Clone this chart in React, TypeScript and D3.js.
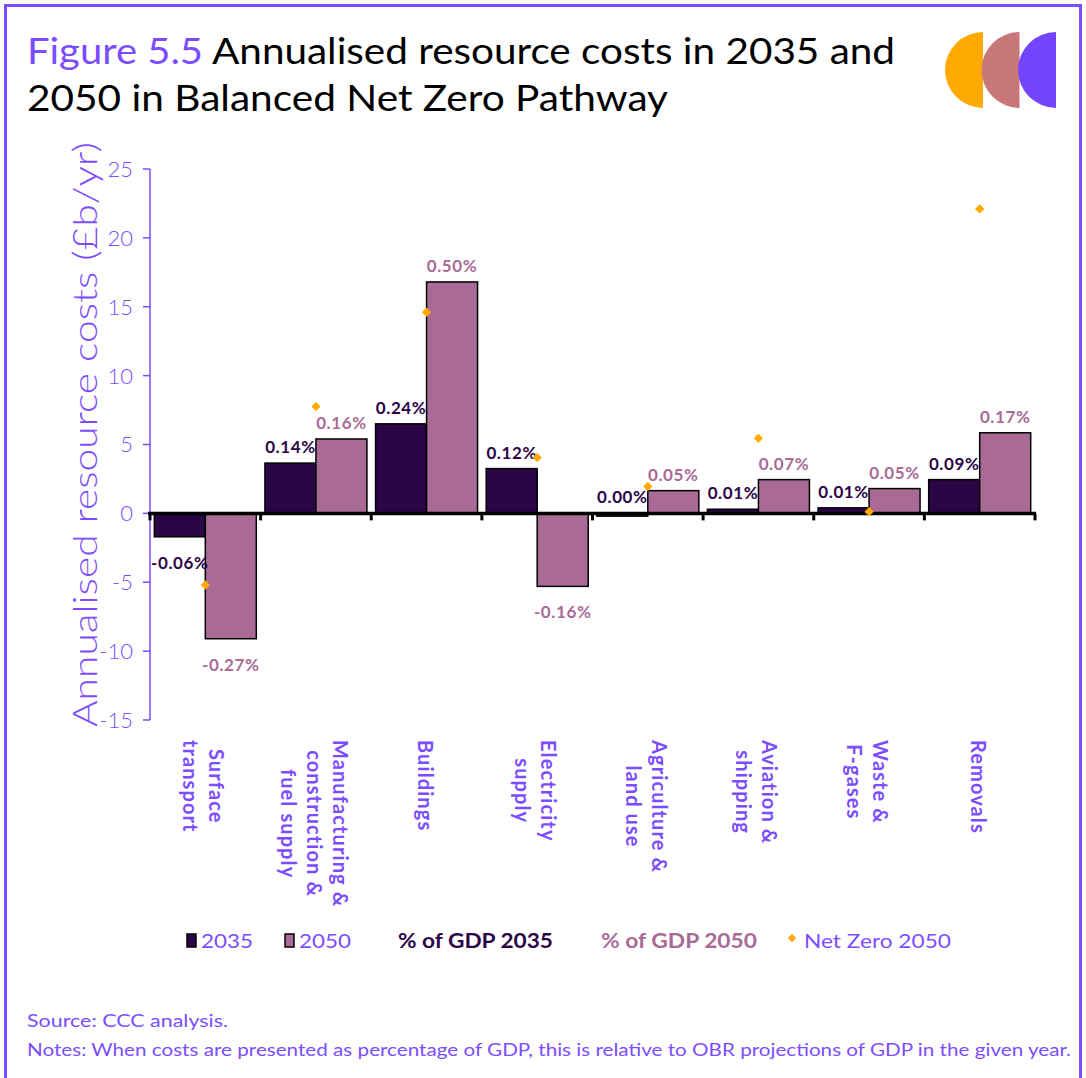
import React, { useEffect, useRef } from "react";
import * as d3 from "d3";

const categories = [
  "Surface transport",
  "Manufacturing & construction & fuel supply",
  "Buildings",
  "Electricity supply",
  "Agriculture & land use",
  "Aviation & shipping",
  "Waste & F-gases",
  "Removals",
];
const categoryLines = [
  ["Surface", "transport"],
  ["Manufacturing &", "construction &", "fuel supply"],
  ["Buildings"],
  ["Electricity", "supply"],
  ["Agriculture &", "land use"],
  ["Aviation &", "shipping"],
  ["Waste &", "F-gases"],
  ["Removals"],
];
const values2035 = [-1.7, 3.65, 6.5, 3.25, -0.2, 0.3, 0.4, 2.45];
const values2050 = [-9.1, 5.4, 16.8, -5.3, 1.65, 2.45, 1.8, 5.85];
const netZero2050 = [-5.2, 7.75, 14.6, 4.05, 1.95, 5.45, 0.12, 22.1];
const pctGdp2035 = ["-0.06%", "0.14%", "0.24%", "0.12%", "0.00%", "0.01%", "0.01%", "0.09%"];
const pctGdp2050 = ["-0.27%", "0.16%", "0.50%", "-0.16%", "0.05%", "0.07%", "0.05%", "0.17%"];
const yTicks = [-15, -10, -5, 0, 5, 10, 15, 20, 25];

const PURPLE = "#7B4DFF";
const DARK = "#2C0547";
const MAUVE = "#A96B96";
const ORANGE = "#FFAA00";
const FONT = "Lato, 'Noto Sans', sans-serif";

export default function App() {
  const ref = useRef<SVGSVGElement | null>(null);

  useEffect(() => {
    const svg = d3.select(ref.current);
    svg.selectAll("*").remove();

    // frame
    svg.append("line").attr("x1", 4).attr("x2", 1082).attr("y1", 5.5).attr("y2", 5.5).attr("stroke", PURPLE).attr("stroke-width", 3);
    svg.append("line").attr("x1", 5.5).attr("x2", 5.5).attr("y1", 4).attr("y2", 1078).attr("stroke", PURPLE).attr("stroke-width", 3);
    svg.append("line").attr("x1", 1080.5).attr("x2", 1080.5).attr("y1", 4).attr("y2", 1078).attr("stroke", PURPLE).attr("stroke-width", 3);

    // title
    svg.append("text").attr("x", 27).attr("y", 64).attr("font-family", FONT).attr("font-size", 37).attr("font-weight", 400).attr("fill", PURPLE)
      .attr("textLength", 176).attr("lengthAdjust", "spacingAndGlyphs").text("Figure 5.5");
    svg.append("text").attr("x", 212).attr("y", 64).attr("font-family", FONT).attr("font-size", 37).attr("font-weight", 400).attr("fill", "#000")
      .attr("textLength", 683).attr("lengthAdjust", "spacingAndGlyphs").text("Annualised resource costs in 2035 and");
    svg.append("text").attr("x", 27).attr("y", 111).attr("font-family", FONT).attr("font-size", 37).attr("font-weight", 400).attr("fill", "#000")
      .attr("textLength", 641).attr("lengthAdjust", "spacingAndGlyphs").text("2050 in Balanced Net Zero Pathway");

    // logo
    const logoColors = [ORANGE, "#C87878", "#7444FF"];
    const logoX = [983, 1019.5, 1056];
    const arc = d3.arc();
    logoColors.forEach((c, i) => {
      svg.append("path")
        .attr("transform", `translate(${logoX[i]},70)`)
        .attr("d", arc({ innerRadius: 0, outerRadius: 38, startAngle: Math.PI, endAngle: 2 * Math.PI } as any) as string)
        .attr("fill", c);
    });

    // scales
    const y = d3.scaleLinear().domain([-15, 25]).range([720, 169]);
    const x = d3.scaleBand<string>().domain(categories).range([150, 1035]).paddingInner(0.078).paddingOuter(0.039);
    const step = x.step();
    const bw = x.bandwidth() / 2;

    // y axis
    const yAxisG = svg.append("g");
    yAxisG.append("line").attr("x1", 150).attr("x2", 150).attr("y1", y(25)).attr("y2", y(-15)).attr("stroke", PURPLE).attr("stroke-width", 1.5);
    yTicks.forEach((t) => {
      yAxisG.append("line").attr("x1", 143).attr("x2", 150).attr("y1", y(t)).attr("y2", y(t)).attr("stroke", PURPLE).attr("stroke-width", 1.5);
      yAxisG.append("text").attr("x", 133).attr("y", y(t)).attr("dy", "0.36em").attr("text-anchor", "end")
        .attr("font-family", FONT).attr("font-size", 22).attr("font-weight", 300).attr("fill", PURPLE).text(String(t));
    });

    svg.append("text")
      .attr("transform", `translate(97,${(y(25) + y(-15)) / 2 - 10}) rotate(-90)`)
      .attr("text-anchor", "middle").attr("font-family", FONT).attr("font-size", 34).attr("font-weight", 300).attr("fill", PURPLE)
      .attr("textLength", 585).attr("lengthAdjust", "spacingAndGlyphs")
      .text("Annualised resource costs (£b/yr)");

    // bars
    const g = svg.append("g");
    categories.forEach((c, i) => {
      const x0 = x(c) as number;
      const v1 = values2035[i];
      const v2 = values2050[i];
      g.append("rect").attr("x", x0).attr("width", bw).attr("y", y(Math.max(0, v1))).attr("height", Math.abs(y(v1) - y(0)))
        .attr("fill", DARK).attr("stroke", "#000").attr("stroke-width", 1.5);
      g.append("rect").attr("x", x0 + bw).attr("width", bw).attr("y", y(Math.max(0, v2))).attr("height", Math.abs(y(v2) - y(0)))
        .attr("fill", MAUVE).attr("stroke", "#000").attr("stroke-width", 1.5);
    });

    // zero axis
    svg.append("line").attr("x1", 148).attr("x2", 1036).attr("y1", y(0)).attr("y2", y(0)).attr("stroke", "#000").attr("stroke-width", 3.5);
    for (let i = 0; i <= categories.length; i++) {
      const tx = 150 + i * step;
      svg.append("line").attr("x1", tx).attr("x2", tx).attr("y1", y(0)).attr("y2", y(0) + 7).attr("stroke", "#000").attr("stroke-width", 3);
    }

    // percentage labels
    categories.forEach((c, i) => {
      const x0 = x(c) as number;
      const lab = (txt: string, v: number, cx: number, col: string) => {
        const neg = txt.startsWith("-");
        const ly = neg ? y(Math.min(0, v)) + 32 : y(Math.max(0, v)) - 10;
        svg.append("text").attr("x", cx).attr("y", ly).attr("text-anchor", "middle").attr("font-family", FONT)
          .attr("font-size", 17).attr("font-weight", 700).attr("letter-spacing", 0.6).attr("fill", col).text(txt);
      };
      lab(pctGdp2035[i], values2035[i], x0 + bw / 2, DARK);
      lab(pctGdp2050[i], values2050[i], x0 + bw * 1.5, MAUVE);
    });

    // net zero diamonds
    const diamond = d3.symbol().type(d3.symbolDiamond2).size(55)();
    categories.forEach((c, i) => {
      const cx = (x(c) as number) + x.bandwidth() / 2;
      svg.append("path").attr("d", diamond as string).attr("transform", `translate(${cx},${y(netZero2050[i])})`).attr("fill", ORANGE);
    });

    // category labels
    const L = 26;
    categories.forEach((c, i) => {
      const cx = (x(c) as number) + x.bandwidth() / 2 - 2;
      const lines = categoryLines[i];
      const n = lines.length;
      const cg = svg.append("g").attr("transform", `translate(${cx},740) rotate(90)`);
      const texts = lines.map((ln, j) =>
        cg.append("text").attr("y", (j - (n - 1) / 2) * L).attr("dy", "0.35em").attr("text-anchor", "middle")
          .attr("font-family", FONT).attr("font-size", 20).attr("font-weight", 700).attr("letter-spacing", 1.1)
          .attr("fill", PURPLE).text(ln)
      );
      const maxW = d3.max(texts, (t) => (t.node() as SVGTextElement).getComputedTextLength()) || 0;
      texts.forEach((t) => t.attr("x", maxW / 2));
    });

    // legend
    const ly = 941;
    const leg = svg.append("g").attr("font-family", FONT).attr("font-size", 20);
    leg.append("rect").attr("x", 187).attr("y", ly - 7).attr("width", 9).attr("height", 13).attr("fill", DARK).attr("stroke", "#000").attr("stroke-width", 1.5);
    leg.append("text").attr("x", 201).attr("y", ly + 7).attr("fill", PURPLE).attr("textLength", 52).attr("lengthAdjust", "spacingAndGlyphs").text("2035");
    leg.append("rect").attr("x", 285).attr("y", ly - 7).attr("width", 9).attr("height", 13).attr("fill", MAUVE).attr("stroke", "#000").attr("stroke-width", 1.5);
    leg.append("text").attr("x", 299).attr("y", ly + 7).attr("fill", PURPLE).attr("textLength", 52).attr("lengthAdjust", "spacingAndGlyphs").text("2050");
    leg.append("text").attr("x", 398).attr("y", ly + 7).attr("fill", DARK).attr("font-weight", 700).attr("textLength", 155).attr("lengthAdjust", "spacingAndGlyphs").text("% of GDP 2035");
    leg.append("text").attr("x", 601).attr("y", ly + 7).attr("fill", MAUVE).attr("font-weight", 700).attr("textLength", 156).attr("lengthAdjust", "spacingAndGlyphs").text("% of GDP 2050");
    leg.append("path").attr("d", d3.symbol().type(d3.symbolDiamond2).size(45)() as string).attr("transform", `translate(792,${ly - 3})`).attr("fill", ORANGE);
    leg.append("text").attr("x", 804).attr("y", ly + 7).attr("fill", PURPLE).attr("textLength", 147).attr("lengthAdjust", "spacingAndGlyphs").text("Net Zero 2050");

    // footer
    svg.append("text").attr("x", 27).attr("y", 1027).attr("font-family", FONT).attr("font-size", 17).attr("fill", PURPLE)
      .attr("textLength", 201).attr("lengthAdjust", "spacingAndGlyphs").text("Source: CCC analysis.");
    svg.append("text").attr("x", 27).attr("y", 1056).attr("font-family", FONT).attr("font-size", 17).attr("fill", PURPLE)
      .attr("textLength", 1044).attr("lengthAdjust", "spacingAndGlyphs")
      .text("Notes: When costs are presented as percentage of GDP, this is relative to OBR projections of GDP in the given year.");
  }, []);

  return (
    <svg
      ref={ref}
      width={1086}
      height={1078}
      style={{ position: "absolute", left: 0, top: 0, background: "#fff" }}
    />
  );
}
